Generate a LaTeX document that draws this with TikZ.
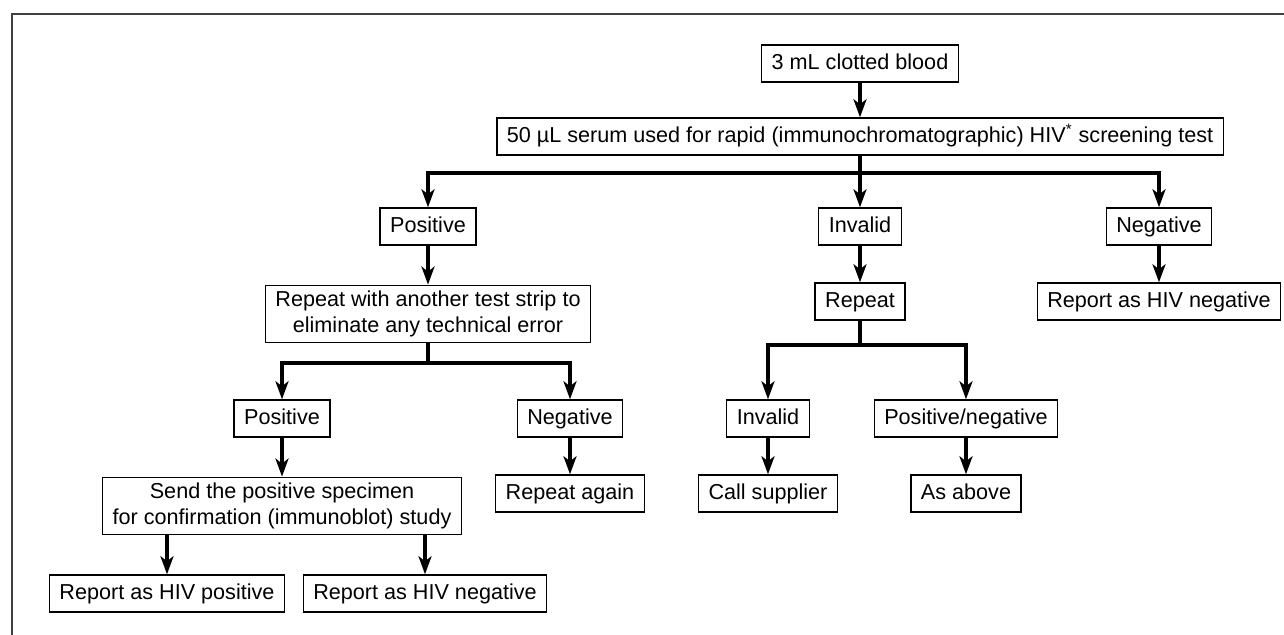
\documentclass[tikz,border=0pt]{standalone}
\usepackage{fontspec}
\setmainfont{Liberation Sans}
\usetikzlibrary{arrows.meta}
\begin{document}
\begin{tikzpicture}
      % Define styles for nodes
      \tikzstyle{twoline} = [draw, rectangle, fill=white, line width=0.8pt,
      minimum height=.74cm, inner xsep=.2cm, align=center,
      font=\fontsize{12.3}{14.5}\selectfont]
      \tikzstyle{box} = [twoline, text height=9pt, text depth=2.6pt]
      \tikzstyle{link} = [line width=2pt,
      -{Stealth[length=3.6mm,width=2.6mm,inset=1mm]}]
      \tikzstyle{joint} = [line width=2pt]

      \useasboundingbox (0,0) rectangle (25.68,12.7);

      % Frame
      \draw[line width=1.2pt,black!75] (0.24,0) -- (0.24,12.42) -- (25.68,12.42);

      % Top of the chart
      \node[box] (blood) at (17.2,11.43) {3 mL clotted blood};
      \node[box] (serum) at (17.2,9.97) {50 µL serum used for rapid (immunochromatographic) HIV\textsuperscript{*} screening test};
      \coordinate (fork1) at (17.2,9.24);

      % First results
      \node[box] (pos1) at (8.56,8.17) {Positive};
      \node[box] (inv1) at (17.2,8.17) {Invalid};
      \node[box] (neg1) at (23.18,8.17) {Negative};

      \node[twoline] (again) at (8.56,6.42) {Repeat with another test strip to\\eliminate any technical error};
      \node[box] (rep) at (17.2,6.67) {Repeat};
      \node[box] (rneg1) at (23.18,6.67) {Report as HIV negative};
      \coordinate (fork2) at (8.56,5.44);
      \coordinate (fork3) at (17.2,5.8);

      % Second results
      \node[box] (pos2) at (5.64,4.33) {Positive};
      \node[box] (neg2) at (11.4,4.33) {Negative};
      \node[box] (inv2) at (15.36,4.33) {Invalid};
      \node[box] (pn) at (19.32,4.33) {Positive/negative};

      \node[twoline] (send) at (5.64,2.58) {Send the positive specimen\\for confirmation (immunoblot) study};
      \node[box] (ragain) at (11.4,2.83) {Repeat again};
      \node[box] (call) at (15.36,2.83) {Call supplier};
      \node[box] (asab) at (19.32,2.83) {As above};

      % Confirmation
      \node[box] (rpos) at (3.34,0.83) {Report as HIV positive};
      \node[box] (rneg2) at (8.5,0.83) {Report as HIV negative};

      % Connections
      \draw[link] (blood) -- (serum);
      \draw[link] (serum) -- (inv1);
      \draw[link] (fork1) -| (pos1);
      \draw[link] (fork1) -| (neg1);
      \draw[link] (pos1) -- (again);
      \draw[link] (inv1) -- (rep);
      \draw[link] (neg1) -- (rneg1);

      \draw[joint] (again) -- (fork2);
      \draw[link] (fork2) -| (pos2);
      \draw[link] (fork2) -| (neg2);
      \draw[joint] (rep) -- (fork3);
      \draw[link] (fork3) -| (inv2);
      \draw[link] (fork3) -| (pn);

      \draw[link] (pos2) -- (send);
      \draw[link] (neg2) -- (ragain);
      \draw[link] (inv2) -- (call);
      \draw[link] (pn) -- (asab);
      \draw[link] (send.south -| rpos.north) -- (rpos);
      \draw[link] (send.south -| rneg2.north) -- (rneg2);
    \end{tikzpicture}
\end{document}
